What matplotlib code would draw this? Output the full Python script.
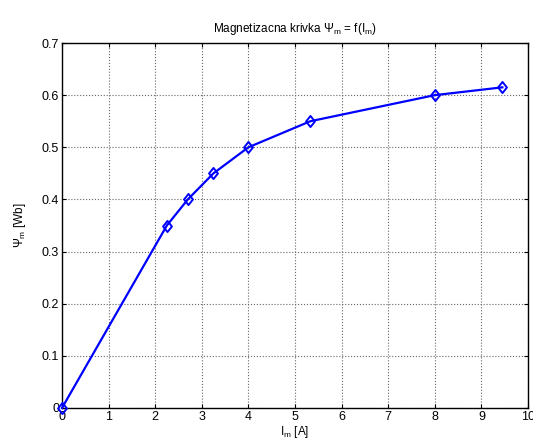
import matplotlib
matplotlib.use("Agg")
import matplotlib.pyplot as plt
from matplotlib.path import Path

plt.rcParams["font.family"] = ["Liberation Sans", "DejaVu Sans"]
plt.rcParams["mathtext.fontset"] = "custom"
plt.rcParams["mathtext.rm"] = "Liberation Sans"
plt.rcParams["mathtext.it"] = "Liberation Sans"

# magnetising current [A] and flux linkage [Wb]
i_m = [0.0, 2.25, 2.7, 3.25, 4.0, 5.33, 8.0, 9.45]
psi_m = [0.0, 0.35, 0.40, 0.45, 0.50, 0.55, 0.60, 0.615]

x_ticks = list(range(0, 11))
y_ticks = [0, 0.1, 0.2, 0.3, 0.4, 0.5, 0.6, 0.7]
y_labels = ["0", "0.1", "0.2", "0.3", "0.4", "0.5", "0.6", "0.7"]

# MATLAB-ish diamond, a bit taller than wide
diamond = Path([(0, 1), (0.8, 0), (0, -1), (-0.8, 0), (0, 1)],
               [Path.MOVETO, Path.LINETO, Path.LINETO, Path.LINETO, Path.CLOSEPOLY])

fig = plt.figure(figsize=(5.33, 4.48), dpi=100)
ax = fig.add_axes([0.1163, 0.0893, 0.8743, 0.8147])

ax.plot(i_m, psi_m, color="#0000ff", linewidth=1.6, marker=diamond,
        markersize=8, markerfacecolor="none", markeredgecolor="#0000ff",
        markeredgewidth=1.4, clip_on=False, zorder=3)

ax.set_xlim(0, 10)
ax.set_ylim(0, 0.7)
ax.set_xticks(x_ticks)
ax.set_yticks(y_ticks)
ax.set_yticklabels(y_labels)
ax.tick_params(direction="in", top=True, right=True, length=3,
               labelsize=9, pad=2, width=0.8)
ax.grid(True, color="#666666", linestyle=":", linewidth=0.8)
for s in ax.spines.values():
    s.set_linewidth(1.0)

ax.set_title(r"Magnetizacna krivka $\Psi_{\rm m}$ = f(I$_{\rm m}$)",
             fontsize=8.5, pad=8)
ax.set_xlabel(r"I$_{\rm m}$ [A]", fontsize=8.5, labelpad=1)
ax.set_ylabel(r"$\Psi_{\rm m}$ [Wb]", fontsize=8.5, labelpad=10)

fig.savefig("out.png", dpi=100)
